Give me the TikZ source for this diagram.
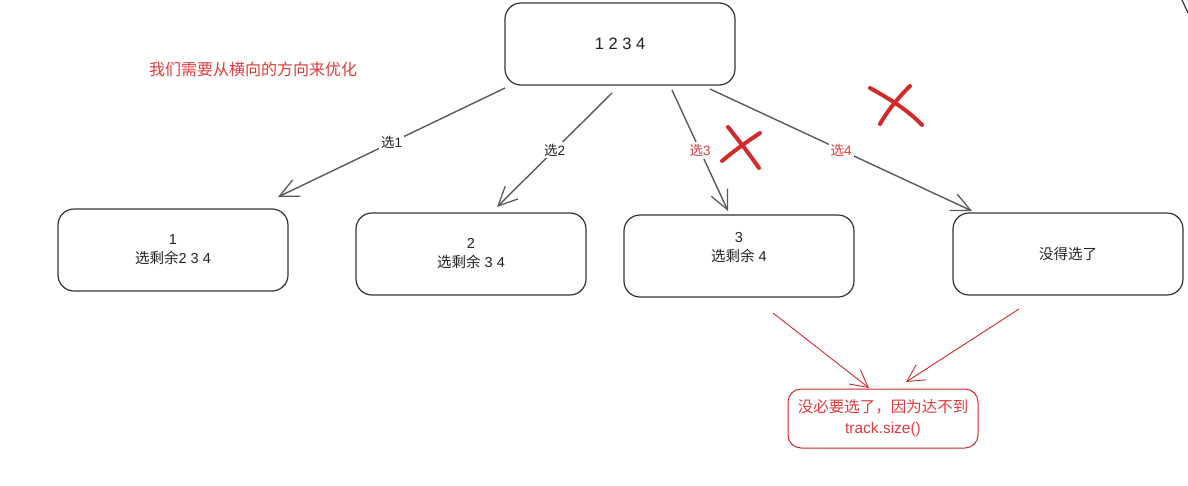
\documentclass[tikz,border=0pt]{standalone}
\usepackage{fontspec}
\setmainfont{Liberation Sans}
\newfontfamily\cjk{Noto Sans CJK SC}
\newcommand\zhtxt[1]{{\cjk #1}}
\usetikzlibrary{arrows.meta}
\definecolor{boxline}{HTML}{333333}
\definecolor{arrgray}{HTML}{5A5A5A}
\definecolor{redx}{HTML}{D02A2A}
\definecolor{redtxt}{HTML}{E03A3A}
\definecolor{txt}{HTML}{222222}
\tikzset{
  box/.style={draw=boxline, line width=1.2pt, rounded corners=16pt,
    minimum width=230pt, minimum height=82pt, align=center, inner sep=0pt,
    text=txt, font=\fontsize{14.5}{19}\selectfont},
  redbox/.style={draw=redx, line width=1pt, rounded corners=13pt,
    minimum width=190pt, minimum height=59pt, align=center, inner sep=0pt,
    text=redtxt, font=\fontsize{15.5}{21}\selectfont},
  conn/.style={draw=arrgray, line width=1.4pt,
    -{Straight Barb[length=19pt,width=18pt,line width=1.3pt]}},
  redconn/.style={draw=redx, line width=0.9pt,
    -{Straight Barb[length=17pt,width=18pt,line width=0.9pt]}},
  lbl/.style={fill=white, inner sep=2pt, font=\fontsize{13.5}{15}\selectfont, text=txt},
  redlbl/.style={lbl, text=redtxt},
  cross/.style={draw=redx, line width=4pt, line cap=round},
  note/.style={text=redtxt, font=\cjk\fontsize{16}{18}\selectfont, inner sep=0pt}
}
\begin{document}
\begin{tikzpicture}[x=1pt,y=-1pt]
\useasboundingbox (0,0) rectangle (1188,485);
% boxes
\node[box, font=\fontsize{16.5}{19}\selectfont] (top) at (620,44) {1 2 3 4};
\node[box] (b1) at (173,250) {1\\\zhtxt{选剩余}2 3 4};
\node[box] (b2) at (471,254) {2\\\zhtxt{选剩余} 3 4};
\node[box] (b3) at (739,256) {3\\\zhtxt{选剩余} 4\\\mbox{}};
\node[box] (b4) at (1068,254) {\zhtxt{没得选了}};
\node[redbox] (rb) at (883,418.5) {\zhtxt{没必要选了，因为达不到}\\track.size()};
\node[note] (hint) at (253,69) {我们需要从横向的方向来优化};
% connector ends
\coordinate (a1s) at (505,88);  \coordinate (a1e) at (278,197);
\coordinate (a2s) at (612,93);  \coordinate (a2e) at (497,207);
\coordinate (a3s) at (672,90);  \coordinate (a3e) at (728,211);
\coordinate (a4s) at (710,89);  \coordinate (a4e) at (972,211);
\coordinate (r1s) at (773,313); \coordinate (r1e) at (869,388);
\coordinate (r2s) at (1019,309);\coordinate (r2e) at (906,382);
% connectors
\draw[conn] (a1s) -- node[lbl] {\zhtxt{选}1} (a1e);
\draw[conn] (a2s) -- node[lbl] {\zhtxt{选}2} (a2e);
\draw[conn] (a3s) -- node[redlbl] {\zhtxt{选}3} (a3e);
\draw[conn] (a4s) -- node[redlbl] {\zhtxt{选}4} (a4e);
\draw[redconn] (r1s) -- (r1e);
\draw[redconn] (r2s) -- (r2e);
% crosses
\draw[cross] (722,161) .. controls (735,150) and (748,141) .. (760,133);
\draw[cross] (728,127) .. controls (740,142) and (750,155) .. (759,168);
\draw[cross] (870,88) .. controls (888,98) and (908,110) .. (922,125);
\draw[cross] (910,86) .. controls (898,98) and (888,110) .. (880,124);
% fragment at top right
\draw[draw=boxline, line width=1.2pt] (1182,0) -- (1188,13);
\end{tikzpicture}
\end{document}
